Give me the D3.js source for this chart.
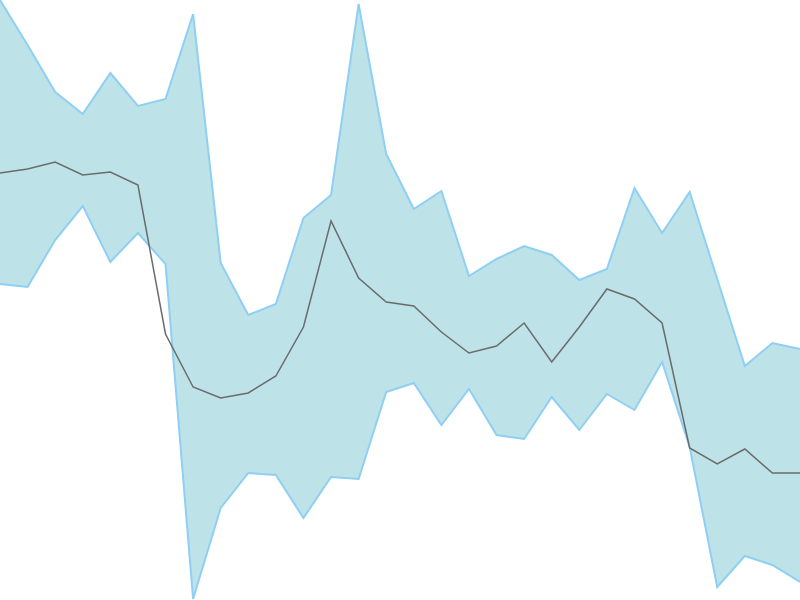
<!DOCTYPE html>
<html>
<head>
<meta charset="utf-8">
<script src="https://cdn.jsdelivr.net/npm/d3@7"></script>
<style>
  body { margin: 0; background: #fff; }
  svg { display: block; }
</style>
</head>
<body>
<svg id="chart"></svg>
<script>
// values (0 = bottom edge, 600 = top edge)
const upper = [600, 555, 508, 486, 527, 494, 501, 586, 337, 285, 296, 382, 405, 596, 446,
               391, 409, 324, 341, 354, 345, 320, 331, 412, 367, 408, 321, 234, 257, 251];
const lower = [316, 313, 360, 394, 338, 367, 336, 1, 92, 127, 125, 82, 123, 121, 208,
               217, 175, 211, 165, 161, 203, 170, 206, 190, 238, 153, 13, 44, 35, 18];
const middle = [427, 431, 438, 425, 428, 415, 266, 213, 202, 207, 224, 273, 379, 322, 298,
                294, 268, 247, 254, 277, 238, 273, 311, 301, 277, 152, 136, 151, 127, 127];

const width = 800, height = 600;

const svg = d3.select("#chart")
  .attr("width", width)
  .attr("height", height);

const x = d3.scaleLinear().domain([0, upper.length - 1]).range([0, width]);
const y = d3.scaleLinear().domain([0, 600]).range([height, 0]);

const rows = upper.map((u, i) => ({ i, u, l: lower[i], m: middle[i] }));

// shaded band
svg.append("path")
  .datum(rows)
  .attr("fill", "#bde3e8")
  .attr("d", d3.area().x(d => x(d.i)).y0(d => y(d.l)).y1(d => y(d.u)));

// band edges
svg.append("path")
  .datum(rows)
  .attr("fill", "none")
  .attr("stroke", "#8fcff3")
  .attr("stroke-width", 2)
  .attr("d", d3.line().x(d => x(d.i)).y(d => y(d.u)));

svg.append("path")
  .datum(rows)
  .attr("fill", "none")
  .attr("stroke", "#8fcff3")
  .attr("stroke-width", 2)
  .attr("d", d3.line().x(d => x(d.i)).y(d => y(d.l)));

// middle line
svg.append("path")
  .datum(rows)
  .attr("fill", "none")
  .attr("stroke", "#6b6b6b")
  .attr("stroke-width", 1.5)
  .attr("d", d3.line().x(d => x(d.i)).y(d => y(d.m)));
</script>
</body>
</html>
